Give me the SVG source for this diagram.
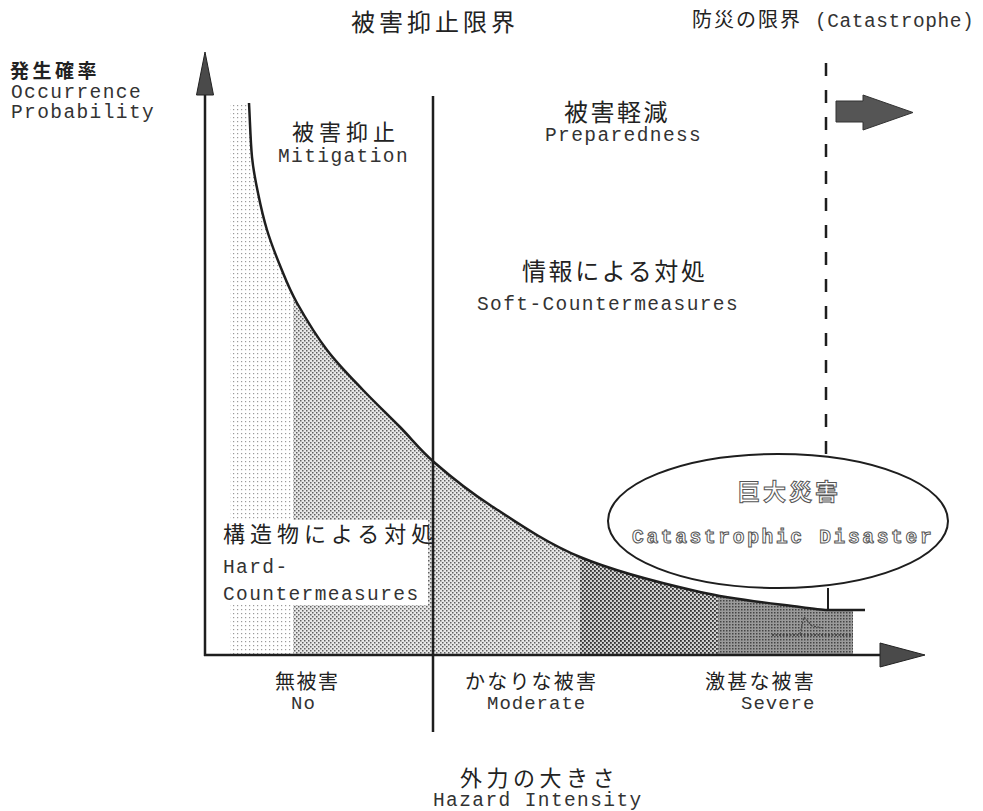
<svg xmlns="http://www.w3.org/2000/svg" width="983" height="811" viewBox="0 0 983 811">
  <style>
    .jp { font-family: "Noto Sans CJK JP", "Noto Sans", sans-serif; fill: #222; }
    .en { font-family: "Liberation Mono", "DejaVu Sans Mono", monospace; fill: #333; font-size: 19.5px; letter-spacing: 1.4px; }
    .en2 { font-family: "Liberation Mono", "DejaVu Sans Mono", monospace; fill: #333; font-size: 19px; letter-spacing: 1px; }
    .ln { stroke: #1e1e1e; fill: none; }
    .hollow { fill: #fff; stroke: #555; stroke-width: 1; }
  </style>
  <defs>
    <pattern id="pLight" width="4" height="4" patternUnits="userSpaceOnUse">
      <rect width="4" height="4" fill="#fff"/>
      <rect x="1" y="1" width="1.2" height="1.2" fill="#9a9a9a"/>
    </pattern>
    <pattern id="pMed" width="4" height="4" patternUnits="userSpaceOnUse">
      <rect width="4" height="4" fill="#e8e8e8"/>
      <rect x="0" y="0" width="1.5" height="1.5" fill="#606060"/>
      <rect x="2" y="2" width="1.5" height="1.5" fill="#606060"/>
    </pattern>
    <pattern id="pDark1" width="4" height="4" patternUnits="userSpaceOnUse">
      <rect width="4" height="4" fill="#d0d0d0"/>
      <rect x="0" y="0" width="1.8" height="1.8" fill="#303030"/>
      <rect x="2" y="2" width="1.8" height="1.8" fill="#303030"/>
    </pattern>
    <pattern id="pDark2" width="3" height="3" patternUnits="userSpaceOnUse">
      <rect width="3" height="3" fill="#9a9a9a"/>
      <rect x="0" y="0" width="1.5" height="1.5" fill="#444"/>
    </pattern>
    <clipPath id="underCurve">
      <path d="M 230,103 L 249,103 C 250,121 250.5,142 252,157 C 253.5,172 255.5,180.8 258,193 C 260.5,205.2 263.2,217.5 267,230 C 270.8,242.5 276,255.8 281,268 C 286,280.2 289.3,289.3 297,303 C 304.7,316.7 316,335.5 327,350 C 338,364.5 350.8,377.2 363,390 C 375.2,402.8 388,414.8 400,427 C 412,439.2 420,450 435,463 C 450,476 465.8,489.3 490,505 C 514.2,520.7 545,542.5 580,557 C 615,571.5 663.3,583.7 700,592 C 736.7,600.3 778.8,604 800,607 C 818,609.5 822,610 827,610 L 853,610 L 853,655 L 230,655 Z"/>
    </clipPath>
  </defs>

  <!-- shaded regions under the curve -->
  <g id="regions" clip-path="url(#underCurve)">
    <rect x="230" y="100" width="63" height="556" fill="url(#pLight)"/>
    <rect x="293" y="100" width="287" height="556" fill="url(#pMed)"/>
    <rect x="580" y="100" width="138" height="556" fill="url(#pDark1)"/>
    <rect x="718" y="100" width="135" height="556" fill="url(#pDark2)"/>
  </g>
  <g id="detail">
    <line x1="772" y1="635" x2="853" y2="635" stroke="#333" stroke-width="1.5" stroke-dasharray="2 1.5"/>
    <path d="M 800,634 L 804,617 L 812,626 L 824,628" stroke="#444" stroke-width="1.2" fill="none" stroke-dasharray="2 1.5"/>
  </g>

  <!-- white box behind hard countermeasures label -->
  <rect x="208" y="520" width="220" height="85" fill="#fff"/>

  <g id="connectors">
    <!-- curve -->
    <path class="ln" stroke-width="2.5" d="M 249,103 C 250,121 250.5,142 252,157 C 253.5,172 255.5,180.8 258,193 C 260.5,205.2 263.2,217.5 267,230 C 270.8,242.5 276,255.8 281,268 C 286,280.2 289.3,289.3 297,303 C 304.7,316.7 316,335.5 327,350 C 338,364.5 350.8,377.2 363,390 C 375.2,402.8 388,414.8 400,427 C 412,439.2 420,450 435,463 C 450,476 465.8,489.3 490,505 C 514.2,520.7 545,542.5 580,557 C 615,571.5 663.3,583.7 700,592 C 736.7,600.3 778.8,604 800,607 C 818,609.5 822,610 827,610 L 865,610"/>
    <!-- y axis -->
    <line class="ln" stroke-width="2.5" x1="205" y1="656" x2="205" y2="92"/>
    <polygon points="205,52 196.5,95 213.5,95" fill="#4a4a4a" stroke="#222" stroke-width="1"/>
    <!-- x axis -->
    <line class="ln" stroke-width="2.5" x1="204" y1="655" x2="882" y2="655"/>
    <polygon points="880,643 925,655 880,667" fill="#4a4a4a" stroke="#222" stroke-width="1"/>
    <!-- mitigation limit line -->
    <line class="ln" stroke-width="2.5" x1="433" y1="96" x2="433" y2="732"/>
    <!-- disaster prevention limit (dashed) -->
    <line class="ln" stroke-width="2.5" x1="826" y1="63" x2="826" y2="456" stroke-dasharray="13 14"/>
    <line class="ln" stroke-width="2" x1="828" y1="588" x2="828" y2="611"/>
    <!-- thick arrow -->
    <polygon points="836,101 863,101 863,95 913,112.5 863,130 863,122 836,122" fill="#555" stroke="#333" stroke-width="1"/>
  </g>

  <!-- title -->
  <g id="title">
    <text class="jp" x="351" y="31" font-size="24" letter-spacing="4">被害抑止限界</text>
  </g>
  <g id="y-label">
    <text class="jp" x="10" y="78" font-size="19" font-weight="bold" letter-spacing="3.5">発生確率</text>
    <text class="en" x="11" y="98">Occurrence</text>
    <text class="en" x="11" y="118">Probability</text>
  </g>
  <g id="catastrophe-limit">
    <text class="jp" x="692" y="27" font-size="20" letter-spacing="2">防災の限界</text>
    <text class="en" x="815" y="27" font-size="19" letter-spacing="0" textLength="160" lengthAdjust="spacing">(Catastrophe)</text>
  </g>
  <g id="mitigation">
    <text class="jp" x="292" y="140" font-size="22" letter-spacing="5">被害抑止</text>
    <text class="en" x="278" y="162">Mitigation</text>
  </g>
  <g id="preparedness">
    <text class="jp" x="564" y="121" font-size="24" letter-spacing="2.5">被害軽減</text>
    <text class="en" x="545" y="141">Preparedness</text>
  </g>
  <g id="soft">
    <text class="jp" x="522" y="280" font-size="24" letter-spacing="2.6">情報による対処</text>
    <text class="en" x="477" y="310">Soft-Countermeasures</text>
  </g>
  <g id="hard">
    <text class="jp" x="223" y="542" font-size="22" letter-spacing="5">構造物による対処</text>
    <text class="en" x="223" y="573">Hard-</text>
    <text class="en" x="223" y="600">Countermeasures</text>
  </g>
  <g id="catastrophic-disaster">
    <ellipse cx="778" cy="521" rx="170" ry="67" fill="#fff" stroke="#1e1e1e" stroke-width="2"/>
    <text class="jp hollow" x="737" y="500" font-size="23" letter-spacing="3" font-weight="bold">巨大災害</text>
    <text class="en hollow" x="632" y="543" font-size="21" letter-spacing="0" font-weight="bold" textLength="301" lengthAdjust="spacing">Catastrophic Disaster</text>
  </g>
  <g id="no-damage">
    <text class="jp" x="275" y="689" font-size="20" letter-spacing="1.5">無被害</text>
    <text class="en2" x="291" y="709">No</text>
  </g>
  <g id="moderate">
    <text class="jp" x="465" y="689" font-size="20" letter-spacing="2.2">かなりな被害</text>
    <text class="en2" x="487" y="709">Moderate</text>
  </g>
  <g id="severe">
    <text class="jp" x="705" y="689" font-size="20" letter-spacing="2.2">激甚な被害</text>
    <text class="en2" x="741" y="709">Severe</text>
  </g>
  <g id="x-label">
    <text class="jp" x="460" y="786" font-size="22" letter-spacing="4.5">外力の大きさ</text>
    <text class="en" x="433" y="806" font-size="21" letter-spacing="1.4">Hazard Intensity</text>
  </g>
</svg>
